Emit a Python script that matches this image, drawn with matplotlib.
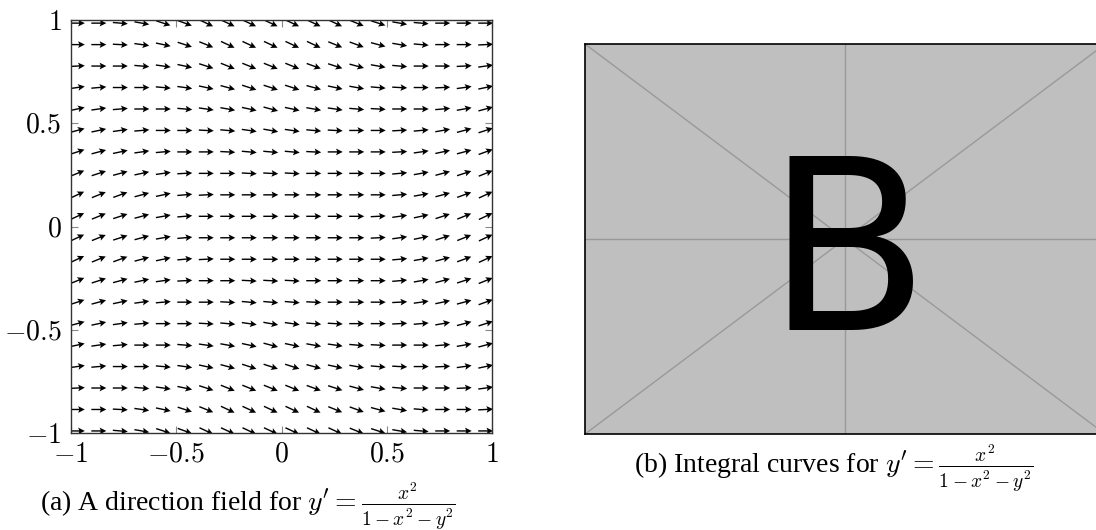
import numpy as np
import matplotlib
matplotlib.use("Agg")
import matplotlib.pyplot as plt

plt.rcParams['mathtext.fontset'] = 'cm'
plt.rcParams['font.family'] = ['Liberation Serif', 'DejaVu Serif']

# sample grid of the direction field (20 x 20)
x_samples = np.linspace(-0.97, 0.97, 20)
y_samples = np.linspace(0.985, -0.99, 20)

# arrow angles in degrees for the upper half, top row first;
# the lower half mirrors these rows about y = 0
angles_top = [
    [0, 0, -5, -10, -18, -20, -25, -25, -25, -25, -25, -25, -25, -22, -18, -10, -5, 0, 0, 0],
    [0, 0, -3, -8, -12, -18, -22, -25, -25, -25, -25, -25, -22, -20, -15, -10, -5, 0, 0, 3],
    [3, 0, 0, -5, -8, -12, -18, -22, -22, -22, -22, -20, -18, -15, -10, -5, 0, 0, 3, 8],
    [8, 5, 0, 0, -5, -8, -12, -15, -18, -18, -18, -15, -12, -10, -5, -3, 0, 3, 8, 12],
    [12, 8, 5, 0, 0, -5, -8, -10, -12, -15, -12, -10, -8, -5, -3, 0, 0, 5, 10, 15],
    [15, 12, 8, 5, 0, 0, -3, -5, -8, -10, -8, -5, -3, 0, 0, 3, 5, 10, 15, 18],
    [18, 15, 12, 8, 5, 0, 0, -3, -5, -5, -5, -3, 0, 0, 0, 3, 8, 12, 15, 20],
    [22, 18, 15, 12, 8, 3, 0, 0, -3, -3, -3, 0, 0, 0, 0, 5, 10, 15, 18, 22],
    [25, 22, 20, 15, 12, 5, 3, 0, 0, 0, 0, 0, 0, 0, 0, 5, 10, 15, 20, 25],
    [25, 22, 18, 15, 10, 5, 0, 0, 0, 0, 0, 0, 0, 0, 3, 8, 12, 18, 22, 25],
]

ticks = [-1, -0.5, 0, 0.5, 1]
tick_labels = [r'$-1$', r'$-0.5$', r'$0$', r'$0.5$', r'$1$']

caption_a = r"(a) A direction field for $y' = \frac{x^2}{1-x^2-y^2}$"
caption_b = r"(b) Integral curves for $y' = \frac{x^2}{1-x^2-y^2}$"

fig = plt.figure(figsize=(10.96, 5.30), dpi=100)

# left panel: direction field
ax = fig.add_axes([0.0648, 0.1830, 0.3841, 0.7792])
theta = np.radians(np.array(angles_top + angles_top[::-1], dtype=float))
X, Y = np.meshgrid(x_samples, y_samples)
ax.quiver(X, Y, np.cos(theta), np.sin(theta), angles='uv', pivot='middle',
          units='dots', width=1.4, scale_units='dots', scale=1 / 15.0,
          headwidth=4.8, headlength=4.8, headaxislength=4.0, color='black')
ax.set_xlim(-1, 1)
ax.set_ylim(-1, 1)
ax.set_xticks(ticks)
ax.set_xticklabels(tick_labels)
ax.set_yticks(ticks)
ax.set_yticklabels(tick_labels)
ax.tick_params(direction='in', length=5, width=0.8, color='#888888',
               top=True, right=True, labelsize=20, pad=7)
for s in ax.spines.values():
    s.set_linewidth(1.0)
    s.set_color('#333333')

# right panel: placeholder image
ax2 = fig.add_axes([0.5338, 0.1811, 0.4745, 0.7358])
ax2.set_xlim(0, 4)
ax2.set_ylim(0, 3)
ax2.set_facecolor('#bfbfbf')
ax2.plot([0, 4], [0, 3], color='#999999', lw=1)
ax2.plot([0, 4], [3, 0], color='#999999', lw=1)
ax2.axvline(2, color='#999999', lw=1)
ax2.axhline(1.5, color='#999999', lw=1)
ax2.text(2.02, 0.8, 'B', fontsize=172, family='DejaVu Sans',
         ha='center', va='baseline')
ax2.set_xticks([])
ax2.set_yticks([])
for s in ax2.spines.values():
    s.set_linewidth(1.2)
    s.set_color('black')

fig.text(0.226, 0.036, caption_a, fontsize=20, ha='center', va='baseline')
fig.text(0.761, 0.108, caption_b, fontsize=20, ha='center', va='baseline')

fig.savefig('out.png', dpi=100)
